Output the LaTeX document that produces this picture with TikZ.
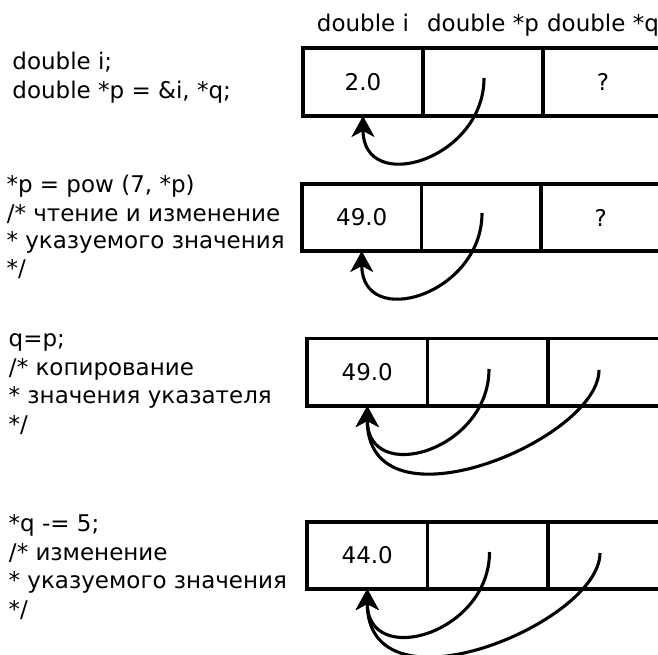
\documentclass[tikz,border=0pt]{standalone}
\usepackage{fontspec}
\setmainfont{DejaVu Sans}
\usetikzlibrary{arrows.meta,calc}
\begin{document}
\begin{tikzpicture}[x=1pt,y=-1pt,
  every node/.style={font=\fontsize{23}{28}\selectfont, inner sep=0pt, outer sep=0pt},
  cell/.style={draw, line width=3.5pt, minimum width=120pt, minimum height=68pt, anchor=north west},
  code/.style={anchor=base west},
  hdr/.style={anchor=base},
  ptr/.style={line width=3.1pt, -{Stealth[length=21pt,width=23pt,inset=6pt]}}]
\useasboundingbox (0,0) rectangle (658,655);
\clip (0,0) rectangle (658,655);

% ---------- row 1 ----------
\node[cell] (a1) at (303,48) {2.0};
\node[cell] (a2) at (a1.north east) {};
\node[cell] (a3) at (a2.north east) {?};
\coordinate (hy) at (0,31.7);
\node[hdr] (h1) at (a1 |- hy) {double i};
\node[hdr] (h2) at (a2 |- hy) {double *p};
\node[hdr] (h3) at (a3 |- hy) {double *q};
\node[code] (t1a) at (12.4,69.3) {double i;};
\node[code] (t1b) at (12.4,98.3) {double *p = \&i, *q;};
\coordinate (pa) at (484,78);
\draw[ptr] (pa) .. controls ($(pa)+(0,82)$) and ($(a1.south)+(0,80)$) .. (a1.south);

% ---------- row 2 ----------
\node[cell, minimum width=119.5pt, minimum height=67pt] (b1) at (302,184) {49.0};
\node[cell, minimum width=119.5pt, minimum height=67pt] (b2) at (b1.north east) {};
\node[cell, minimum width=119.5pt, minimum height=67pt] (b3) at (b2.north east) {?};
\node[code] (t2a) at (6.5,193) {*p = pow (7, *p)};
\node[code] (t2b) at (6.8,221) {/* чтение и изменение};
\node[code] (t2c) at (6.5,248.5) {* указуемого значения};
\node[code] (t2d) at (6.5,276.5) {*/};
\coordinate (pb) at (482,213);
\draw[ptr] (pb) .. controls ($(pb)+(0,82)$) and ($(b1.south)+(0,80)$) .. (b1.south);

% ---------- row 3 ----------
\node[cell, minimum width=120.5pt, minimum height=67.5pt] (c1) at (307,338.5) {49.0};
\node[cell, minimum width=120.5pt, minimum height=67.5pt] (c2) at (c1.north east) {};
\node[cell, minimum width=120.5pt, minimum height=67.5pt] (c3) at (c2.north east) {};
\node[code] (t3a) at (8.7,346) {q=p;};
\node[code] (t3b) at (9,375) {/* копирование};
\node[code] (t3c) at (8.7,403.5) {* значения указателя};
\node[code] (t3d) at (8.7,432) {*/};
\coordinate (pc) at (489,369);
\coordinate (qc) at (599,370);
\draw[ptr] (pc) .. controls ($(pc)+(0,82)$) and ($(c1.south)+(0,80)$) .. (c1.south);
\draw[ptr] (qc) .. controls ($(qc)+(0,70)$) and ($(c1.south)+(0,130)$) .. (c1.south);

% ---------- row 4 ----------
\node[cell, minimum width=120.5pt, minimum height=67pt] (d1) at (307,522) {44.0};
\node[cell, minimum width=120.5pt, minimum height=67pt] (d2) at (d1.north east) {};
\node[cell, minimum width=120.5pt, minimum height=67pt] (d3) at (d2.north east) {};
\node[code] (t4a) at (8.7,531) {*q -= 5;};
\node[code] (t4b) at (9,560) {/* изменение};
\node[code] (t4c) at (8.7,588) {* указуемого значения};
\node[code] (t4d) at (8.7,617) {*/};
\coordinate (pd) at (489.5,552);
\coordinate (qd) at (600,553);
\draw[ptr] (pd) .. controls ($(pd)+(0,82)$) and ($(d1.south)+(0,80)$) .. (d1.south);
\draw[ptr] (qd) .. controls ($(qd)+(0,70)$) and ($(d1.south)+(0,130)$) .. (d1.south);
\end{tikzpicture}
\end{document}
